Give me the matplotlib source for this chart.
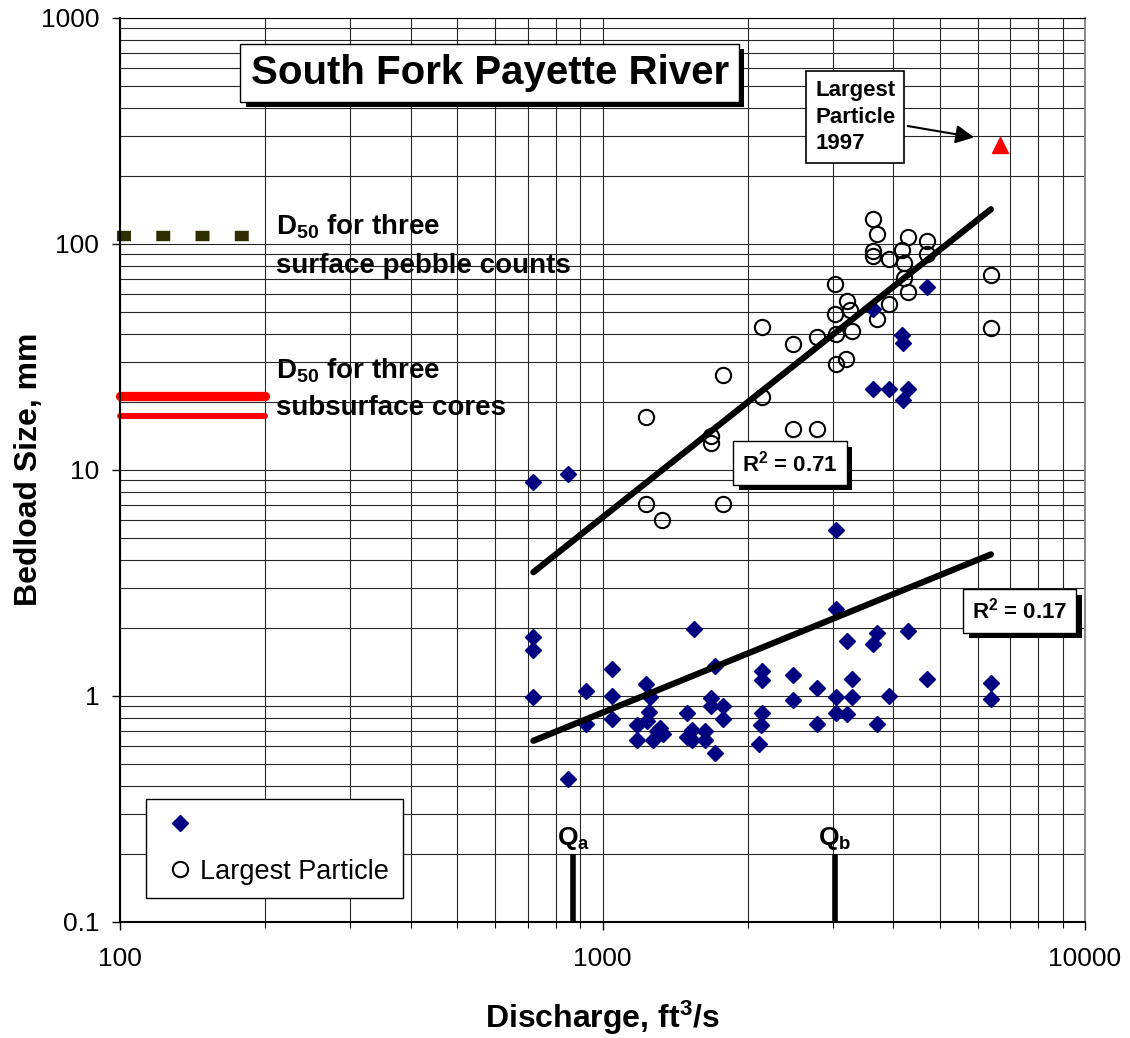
import matplotlib
matplotlib.use('Agg')
import matplotlib.pyplot as plt
from matplotlib import patheffects as pe
from matplotlib.lines import Line2D
from matplotlib.ticker import LogLocator, NullFormatter, FixedLocator, FixedFormatter

plt.rcParams['font.family'] = ['Liberation Sans', 'DejaVu Sans']
plt.rcParams['mathtext.fontset'] = 'custom'
plt.rcParams['mathtext.rm'] = 'Liberation Sans:bold'
plt.rcParams['mathtext.bf'] = 'Liberation Sans:bold'
plt.rcParams['mathtext.it'] = 'Liberation Sans:bold'
plt.rcParams['mathtext.default'] = 'bf'

# bedload median size (diamonds)
small_q = [719, 847, 719, 719, 719, 847, 925, 925, 1045, 1045, 1045,
           1229, 1254, 1249, 1177, 1177, 1235, 1275, 1316, 1337, 1300,
           1499, 1499, 1530, 1530, 1550, 1628, 1628, 1711, 1711, 1676, 1676,
           1780, 1780, 2144, 2144, 2138, 2130, 2113, 2485, 2485, 2787, 2787,
           3050, 3050, 3050, 3050, 3207, 3207, 3285, 3285, 3701, 3641, 3701,
           3930, 4303, 4698, 6383, 6383,
           4698, 3641, 4169, 4194, 3641, 3930, 4303, 4194]
small_d = [8.8, 9.6, 1.81, 1.59, 0.99, 0.43, 1.05, 0.75, 1.31, 1.0, 0.79,
           1.13, 0.99, 0.85, 0.74, 0.64, 0.77, 0.64, 0.72, 0.68, 0.70,
           0.84, 0.66, 0.705, 0.64, 1.97, 0.70, 0.64, 1.36, 0.56, 0.98, 0.90,
           0.90, 0.79, 1.28, 1.17, 0.84, 0.74, 0.61, 1.24, 0.96, 1.08, 0.75,
           5.4, 2.43, 0.99, 0.84, 1.75, 0.83, 1.18, 0.99, 1.89, 1.70, 0.75,
           1.0, 1.94, 1.18, 1.14, 0.97,
           64.3, 51.6, 39.3, 36.5, 22.8, 22.8, 22.8, 20.4]

# largest particle (open circles)
large_q = [1229, 1676, 1676, 2485, 2787, 1229, 1330, 1780, 1777, 2141, 2141,
           2485, 2787, 3034, 3207, 3258, 3034, 3930, 3701, 3050, 3285, 3050,
           3196, 3641, 3712, 4303, 4698, 3641, 3641, 3930, 4169, 4216, 4698,
           4216, 4303, 6383, 6383]
large_d = [17.1, 14.1, 13.1, 15.1, 15.1, 7.03, 5.99, 7.03, 26.2, 21.0, 42.8,
           35.9, 38.6, 66.1, 55.5, 50.7, 48.9, 54.2, 46.3, 40.0, 40.9, 29.4,
           31.0, 128, 110, 107, 103, 92.5, 88, 85.3, 94.2, 82, 89.7,
           70.3, 61.2, 73, 42.3]

# power-law trend lines
trend_q = [719, 6383]
trend_large = [3.52, 142]
trend_small = [0.632, 4.22]

# largest particle of 1997
big_q, big_d = 6665, 273

# reference D50 lines
surface_q = [98.6, 185.2]
surface_d50 = 108
subsurface_q = [100, 200]
subsurface_d50 = [21.2, 17.3]

# threshold discharges
qa, qb = 869, 3034
q_mark = [0.1, 0.2]

fig = plt.figure(figsize=(11.3, 10.38), dpi=100)
ax = fig.add_axes([0.1062, 0.112, 0.854, 0.871])
ax.set_xscale('log')
ax.set_yscale('log')
ax.set_xlim(100, 10000)
ax.set_ylim(0.1, 1000)

ax.grid(which='both', color='0.15', lw=0.8)
ax.set_axisbelow(True)

ax.plot(surface_q, [surface_d50] * 2, color='#2e2e00', lw=7.5,
        dashes=(1.34, 2.43), solid_capstyle='butt', dash_capstyle='butt',
        clip_on=False)
ax.plot(subsurface_q, [subsurface_d50[0]] * 2, color='red', lw=6.7,
        solid_capstyle='round', clip_on=False)
ax.plot(subsurface_q, [subsurface_d50[1]] * 2, color='red', lw=4.3,
        solid_capstyle='round', clip_on=False)

ax.plot(large_q, large_d, 'o', ms=11, mfc='none', mec='black', mew=1.5)
ax.plot(small_q, small_d, 'D', ms=8, color='#000080', mec='#000080')
ax.plot(trend_q, trend_large, color='black', lw=4.5, solid_capstyle='round')
ax.plot(trend_q, trend_small, color='black', lw=4.5, solid_capstyle='round')
ax.plot(big_q, big_d, '^', ms=11, color='red')

ax.plot([qa, qa], q_mark, color='black', lw=4, solid_capstyle='butt')
ax.plot([qb, qb], q_mark, color='black', lw=4, solid_capstyle='butt')
ax.text(qa, 0.218, r'Q$_{a}$', fontsize=19, fontweight='bold', ha='center')
ax.text(qb, 0.218, r'Q$_{b}$', fontsize=19, fontweight='bold', ha='center')

shadow = [pe.withSimplePatchShadow(offset=(4, -4), shadow_rgbFace='black', alpha=1)]

t = ax.text(0.383, 0.939, 'South Fork Payette River', transform=ax.transAxes,
            fontsize=29, fontweight='bold', ha='center', va='center',
            bbox=dict(boxstyle='square,pad=0.25', fc='white', ec='black', lw=1))
t.get_bbox_patch().set_path_effects(shadow)

for x, y, s in [(2447, 10.7, r'R$^{2}$ = 0.71'), (7328, 2.37, r'R$^{2}$ = 0.17')]:
    t = ax.text(x, y, s, fontsize=16, fontweight='bold', ha='center', va='center',
                bbox=dict(boxstyle='square,pad=0.4', fc='white', ec='black', lw=1))
    t.get_bbox_patch().set_path_effects(shadow)

ax.annotate('Largest\nParticle\n1997', xy=(5970, 294), xytext=(0.762, 0.89),
            textcoords='axes fraction', fontsize=16, fontweight='bold',
            ha='center', va='center', multialignment='left', linespacing=1.35,
            bbox=dict(boxstyle='square,pad=0.4', fc='white', ec='black', lw=1.2),
            arrowprops=dict(arrowstyle='-|>', color='black', lw=1.5, mutation_scale=28))

ax.text(0.1617, 0.7596, r'D$_{50}$ for three', transform=ax.transAxes,
        fontsize=20, fontweight='bold', va='baseline')
ax.text(0.1617, 0.7173, 'surface pebble counts', transform=ax.transAxes,
        fontsize=20, fontweight='bold', va='baseline')
ax.text(0.1617, 0.6011, r'D$_{50}$ for three', transform=ax.transAxes,
        fontsize=20, fontweight='bold', va='baseline')
ax.text(0.1617, 0.5605, 'subsurface cores', transform=ax.transAxes,
        fontsize=20, fontweight='bold', va='baseline')

handles = [Line2D([], [], ls='none', marker='D', ms=8, color='#000080'),
           Line2D([], [], ls='none', marker='o', ms=11, mfc='none', mec='black', mew=1.5)]
leg = ax.legend(handles, ['', 'Largest Particle'], loc='lower left',
                bbox_to_anchor=(0.027, 0.026), borderaxespad=0, fontsize=19.5,
                frameon=True, fancybox=False, framealpha=1, edgecolor='black',
                borderpad=0.5, labelspacing=0.74, handlelength=1.5,
                handletextpad=0.0)
leg.get_frame().set_linewidth(1)

ax.xaxis.set_major_locator(FixedLocator([100, 1000, 10000]))
ax.xaxis.set_major_formatter(FixedFormatter(['100', '1000', '10000']))
ax.xaxis.set_minor_locator(LogLocator(base=10, subs=range(2, 10)))
ax.xaxis.set_minor_formatter(NullFormatter())
ax.yaxis.set_major_locator(FixedLocator([0.1, 1, 10, 100, 1000]))
ax.yaxis.set_major_formatter(FixedFormatter(['0.1', '1', '10', '100', '1000']))
ax.yaxis.set_minor_locator(LogLocator(base=10, subs=range(2, 10)))
ax.yaxis.set_minor_formatter(NullFormatter())

ax.tick_params(which='major', length=6, width=1, labelsize=19, color='black')
ax.tick_params(axis='x', which='major', pad=12)
ax.tick_params(axis='y', which='major', pad=9)
ax.tick_params(axis='x', which='minor', length=4, width=0.8)
ax.tick_params(axis='y', which='minor', length=0)

for side in ['left', 'bottom']:
    ax.spines[side].set_linewidth(1.5)
ax.spines['right'].set_color('0.55')
ax.spines['right'].set_linewidth(1.5)
ax.spines['top'].set_linewidth(0.8)

ax.set_ylabel('Bedload Size, mm', fontsize=23, fontweight='bold')
ax.set_xlabel(r'Discharge, ft$^{3}$/s', fontsize=23, fontweight='bold')
ax.yaxis.set_label_coords(-0.079, 0.5)
ax.xaxis.set_label_coords(0.5, -0.085)

fig.savefig('out.png', dpi=100)
